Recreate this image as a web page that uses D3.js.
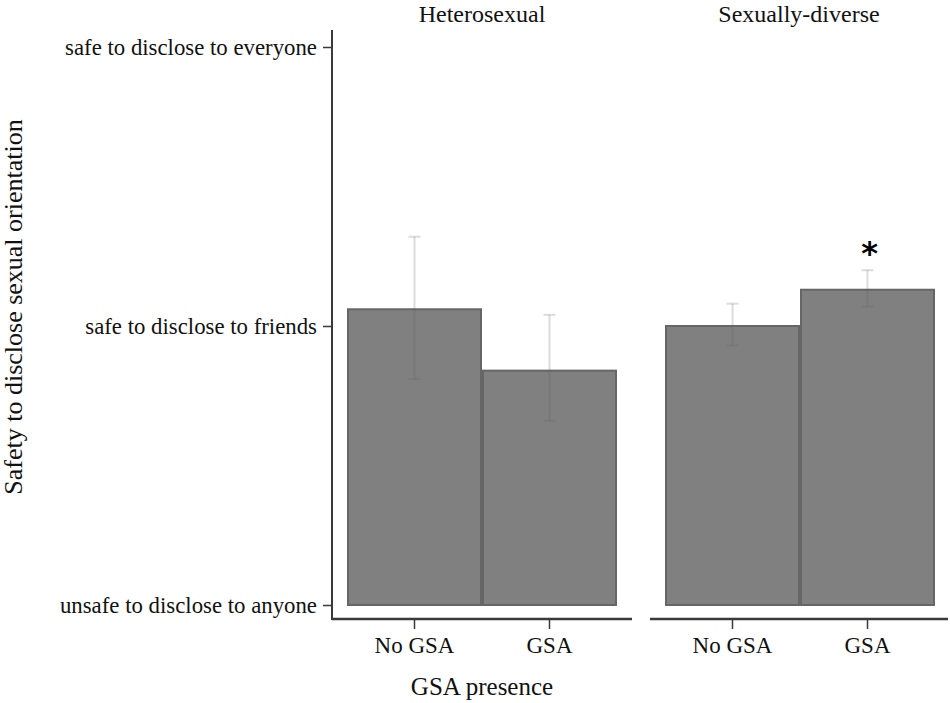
<!DOCTYPE html>
<html><head><meta charset="utf-8">
<script src="https://cdn.jsdelivr.net/npm/d3@7"></script>
<style>body{margin:0;background:#fff}</style>
</head><body>
<svg id="c" width="950" height="703"></svg>
<script>
const panels = ["Heterosexual", "Sexually-diverse"];
const groups = ["No GSA", "GSA"];
const means = [[2.06, 1.84], [2.00, 2.13]];
const errLow = [[1.81, 1.66], [1.93, 2.07]];
const errHigh = [[2.32, 2.04], [2.08, 2.20]];
const stars = [["", ""], ["", "*"]];
const yTickValues = [1, 2, 3];
const yTickLabels = ["unsafe to disclose to anyone", "safe to disclose to friends", "safe to disclose to everyone"];

const svg = d3.select("#c");
const font = "'Liberation Serif','Times New Roman',serif";
const y = d3.scaleLinear().domain([1, 3]).range([605, 47]);
const panelX = [332, 650];
const panelW = [300, 298];
const axisColor = "#3a3a3a";

// y axis
const yAxis = d3.axisLeft(y).tickValues(yTickValues).tickFormat((d, i) => yTickLabels[i]).tickSize(9).tickPadding(6);
const gy = svg.append("g").attr("transform", `translate(${panelX[0]},0)`).call(yAxis);
gy.select(".domain").remove();
gy.append("line").attr("x1", 0).attr("x2", 0).attr("y1", 30).attr("y2", 620).attr("stroke", axisColor).attr("stroke-width", 2);
gy.selectAll(".tick line").attr("stroke", axisColor).attr("stroke-width", 1.5);
gy.selectAll(".tick text").attr("font-family", font).attr("font-size", 22.8).attr("fill", "#111");

panels.forEach((p, pi) => {
  const g = svg.append("g").attr("transform", `translate(${panelX[pi]},0)`);
  const x = d3.scaleBand().domain(groups).range([15, 285]).padding(0);
  // x axis
  const xAxis = d3.axisBottom(x).tickSize(10).tickPadding(8);
  const gx = g.append("g").attr("transform", "translate(0,619)").call(xAxis);
  gx.select(".domain").remove();
  gx.append("line").attr("x1", 0).attr("x2", panelW[pi]).attr("y1", 0).attr("y2", 0).attr("stroke", axisColor).attr("stroke-width", 2.5);
  gx.selectAll(".tick line").attr("stroke", axisColor).attr("stroke-width", 1.5);
  gx.selectAll(".tick text").attr("font-family", font).attr("font-size", 23).attr("fill", "#111");

  const data = groups.map((gname, i) => ({g: gname, m: means[pi][i], lo: errLow[pi][i], hi: errHigh[pi][i], s: stars[pi][i]}));
  g.selectAll("rect.bar").data(data).enter().append("rect")
    .attr("x", d => x(d.g) + 1).attr("width", x.bandwidth() - 2)
    .attr("y", d => y(d.m)).attr("height", d => y(1) - y(d.m))
    .attr("fill", "#808080").attr("stroke", "#666").attr("stroke-width", 2);
  const ec = "rgba(95,95,95,0.22)";
  const eb = g.selectAll("g.err").data(data).enter().append("g");
  eb.append("line").attr("x1", d => x(d.g) + x.bandwidth()/2).attr("x2", d => x(d.g) + x.bandwidth()/2)
    .attr("y1", d => y(d.lo)).attr("y2", d => y(d.hi)).attr("stroke", ec).attr("stroke-width", 2);
  eb.append("line").attr("x1", d => x(d.g) + x.bandwidth()/2 - 6).attr("x2", d => x(d.g) + x.bandwidth()/2 + 6)
    .attr("y1", d => y(d.hi)).attr("y2", d => y(d.hi)).attr("stroke", ec).attr("stroke-width", 2);
  eb.append("line").attr("x1", d => x(d.g) + x.bandwidth()/2 - 6).attr("x2", d => x(d.g) + x.bandwidth()/2 + 6)
    .attr("y1", d => y(d.lo)).attr("y2", d => y(d.lo)).attr("stroke", ec).attr("stroke-width", 2);
  g.selectAll("text.star").data(data.filter(d => d.s)).enter().append("text")
    .attr("x", d => x(d.g) + x.bandwidth()/2 + 2).attr("y", d => y(d.hi) - 6)
    .attr("text-anchor", "middle").attr("font-family", "'DejaVu Sans',sans-serif").attr("font-weight", "bold")
    .attr("font-size", 32).attr("fill", "#000").text(d => d.s);

  g.append("text").attr("x", panelW[pi] / 2).attr("y", 21.5).attr("text-anchor", "middle")
    .attr("font-family", font).attr("font-size", 24).attr("fill", "#111").text(p);
});

svg.append("text").attr("x", 482).attr("y", 695).attr("text-anchor", "middle")
  .attr("font-family", font).attr("font-size", 25).attr("fill", "#111").text("GSA presence");
svg.append("text").attr("transform", "translate(22,307) rotate(-90)").attr("text-anchor", "middle")
  .attr("font-family", font).attr("font-size", 26).attr("fill", "#111").text("Safety to disclose sexual orientation");
</script>
</body></html>
